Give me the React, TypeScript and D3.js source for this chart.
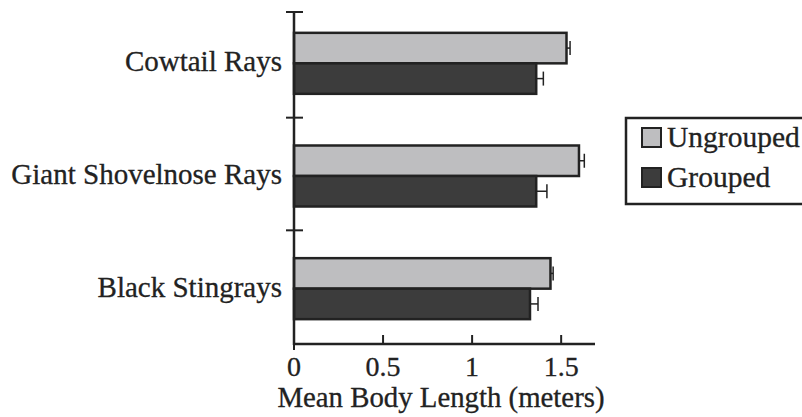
import * as d3 from 'd3';
import { useEffect, useRef } from 'react';

const categories = ['Cowtail Rays', 'Giant Shovelnose Rays', 'Black Stingrays'];
const seriesNames = ['Ungrouped', 'Grouped'];
const ungrouped = [1.53, 1.6, 1.44];
const grouped = [1.36, 1.36, 1.325];
const ungroupedErr = [0.02, 0.03, 0.015];
const groupedErr = [0.04, 0.06, 0.045];
const xTicks = [0, 0.5, 1, 1.5];
const colors = ['#bebec0', '#3c3c3c'];

const App = () => {
    const ref = useRef<SVGSVGElement>(null);

    useEffect(() => {
        const svg: any = d3.select(ref.current);
        svg.selectAll('*').remove();
        const font = 'Liberation Serif';
        const ink = '#222';

        const x: any = d3.scaleLinear().domain([0, 1.69]).range([294, 595]);
        const y: any = d3.scaleBand().domain(categories).range([7, 345]);
        const inner: any = d3.scaleBand().domain(seriesNames).range([0, 61]);

        const rows = categories.map((c, i) => ({
            cat: c,
            vals: [
                { s: seriesNames[0], v: ungrouped[i], e: ungroupedErr[i] },
                { s: seriesNames[1], v: grouped[i], e: groupedErr[i] },
            ],
        }));

        const g = svg.selectAll('g.row')
            .data(rows)
            .enter()
            .append('g')
            .attr('class', 'row')
            .attr('transform', (d: any) => `translate(0,${y(d.cat) + y.bandwidth() / 2 - 30.5})`);

        // error bars (upper side only)
        g.selectAll('g.err')
            .data((d: any) => d.vals)
            .enter()
            .append('g')
            .attr('class', 'err')
            .each(function (this: any, d: any) {
                const gg = d3.select(this);
                const cy = inner(d.s) + inner.bandwidth() / 2;
                gg.append('line')
                    .attr('x1', x(d.v)).attr('x2', x(d.v + d.e))
                    .attr('y1', cy).attr('y2', cy)
                    .attr('stroke', ink).attr('stroke-width', 1.5);
                gg.append('line')
                    .attr('x1', x(d.v + d.e)).attr('x2', x(d.v + d.e))
                    .attr('y1', cy - 7).attr('y2', cy + 7)
                    .attr('stroke', ink).attr('stroke-width', 1.5);
            });

        g.selectAll('rect')
            .data((d: any) => d.vals)
            .enter()
            .append('rect')
            .attr('x', x(0))
            .attr('y', (d: any) => inner(d.s))
            .attr('width', (d: any) => x(d.v) - x(0))
            .attr('height', inner.bandwidth())
            .attr('fill', (d: any, i: number) => colors[i])
            .attr('stroke', ink)
            .attr('stroke-width', 2.5);

        // category labels
        svg.selectAll('text.cat')
            .data(categories)
            .enter()
            .append('text')
            .attr('class', 'cat')
            .attr('x', 282)
            .attr('y', (d: any) => y(d) + y.bandwidth() / 2 + 8)
            .attr('text-anchor', 'end')
            .attr('font-family', font)
            .attr('font-size', 29)
            .attr('fill', ink)
            .attr('stroke', ink).attr('stroke-width', 0.3)
            .text((d: any) => d);

        // y axis
        svg.append('line')
            .attr('x1', x(0)).attr('x2', x(0))
            .attr('y1', 12).attr('y2', 345)
            .attr('stroke', ink).attr('stroke-width', 2.5);
        const yTickPos = [12, y(categories[1]) - 2, y(categories[2]) - 2];
        svg.selectAll('line.ytick')
            .data(yTickPos)
            .enter()
            .append('line')
            .attr('class', 'ytick')
            .attr('x1', x(0) - 8).attr('x2', x(0) + 9)
            .attr('y1', (d: any) => d).attr('y2', (d: any) => d)
            .attr('stroke', ink).attr('stroke-width', 2);

        // x axis
        const axisY = 344;
        svg.append('line')
            .attr('x1', x(0) - 1).attr('x2', 595)
            .attr('y1', axisY).attr('y2', axisY)
            .attr('stroke', ink).attr('stroke-width', 2.5);
        svg.selectAll('line.xtick')
            .data(xTicks)
            .enter()
            .append('line')
            .attr('class', 'xtick')
            .attr('x1', (d: any) => x(d)).attr('x2', (d: any) => x(d))
            .attr('y1', axisY - 9).attr('y2', (d: any) => (d === 0 ? axisY + 6 : axisY))
            .attr('stroke', ink).attr('stroke-width', 2);
        svg.selectAll('text.xtick')
            .data(xTicks)
            .enter()
            .append('text')
            .attr('class', 'xtick')
            .attr('x', (d: any) => x(d))
            .attr('y', 376)
            .attr('text-anchor', 'middle')
            .attr('font-family', font)
            .attr('font-size', 28)
            .attr('fill', ink)
            .attr('stroke', ink).attr('stroke-width', 0.3)
            .text((d: any) => String(d));
        svg.append('text')
            .attr('x', 441)
            .attr('y', 407)
            .attr('text-anchor', 'middle')
            .attr('font-family', font)
            .attr('font-size', 28.8)
            .attr('fill', ink)
            .attr('stroke', ink).attr('stroke-width', 0.3)
            .text('Mean Body Length (meters)');

        // legend
        const lg = svg.append('g');
        lg.append('rect')
            .attr('x', 626).attr('y', 118)
            .attr('width', 190).attr('height', 86)
            .attr('fill', '#fff')
            .attr('stroke', ink).attr('stroke-width', 2.5);
        const items = lg.selectAll('g.item')
            .data(seriesNames)
            .enter()
            .append('g')
            .attr('class', 'item')
            .attr('transform', (d: any, i: number) => `translate(0,${137 + i * 40})`);
        items.append('rect')
            .attr('x', 642).attr('y', -9)
            .attr('width', 19).attr('height', 19)
            .attr('fill', (d: any, i: number) => colors[i])
            .attr('stroke', ink).attr('stroke-width', 2);
        items.append('text')
            .attr('x', 667)
            .attr('y', 10)
            .attr('font-family', font)
            .attr('font-size', 29.5)
            .attr('fill', ink)
            .attr('stroke', ink).attr('stroke-width', 0.3)
            .text((d: any) => d);
    }, []);

    return (
        <svg ref={ref} width={802} height={417}
            style={{ position: 'absolute', left: 0, top: 0, background: '#fff' }} />
    );
};

export default App;
